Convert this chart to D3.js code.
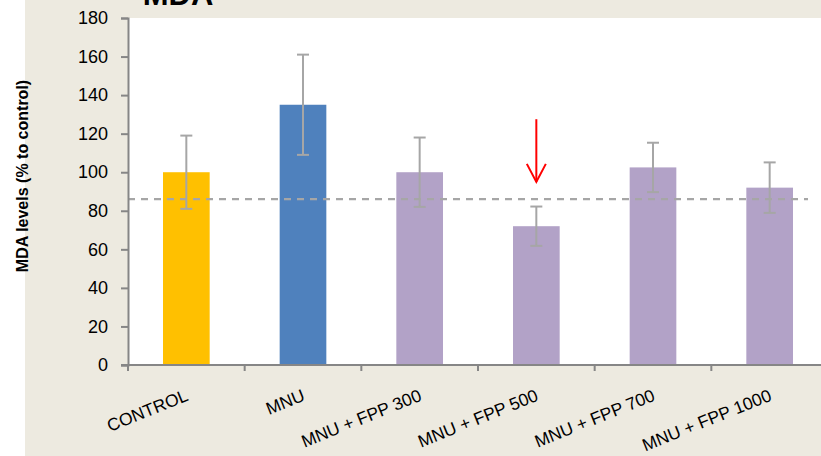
<!DOCTYPE html>
<html>
<head>
<meta charset="utf-8">
<script src="https://cdn.jsdelivr.net/npm/d3@7"></script>
<style>
  html, body { margin: 0; padding: 0; background: #ffffff; }
  svg { display: block; }
</style>
</head>
<body>
<svg id="chart" width="821" height="456"></svg>
<script>
const categories = ["CONTROL", "MNU", "MNU + FPP 300", "MNU + FPP 500", "MNU + FPP 700", "MNU + FPP 1000"];
const values = [100, 135, 100, 72, 102.5, 92];
const errors = [19, 26, 18, 10.2, 12.8, 13.1];
const barColors = ["#FFC000", "#4F81BD", "#B2A2C7", "#B2A2C7", "#B2A2C7", "#B2A2C7"];
const yTicks = [0, 20, 40, 60, 80, 100, 120, 140, 160, 180];
const referenceLevel = 86;
const arrowCategory = "MNU + FPP 500";
const arrowFrom = 127.5;
const arrowTo = 95;
const title = "MDA";
const yLabel = "MDA levels (% to control)";

const svg = d3.select("#chart");
const W = 821, H = 456;
const plot = { left: 128, right: 828, top: 18, bottom: 365 };
const FONT = "'Liberation Sans', Arial, sans-serif";

// background
svg.append("rect").attr("x", 0).attr("y", 0).attr("width", W).attr("height", H).attr("fill", "#ffffff");
svg.append("rect").attr("x", 25).attr("y", 0).attr("width", W - 25).attr("height", H).attr("fill", "#EDEAE0");
svg.append("rect").attr("x", plot.left).attr("y", plot.top)
  .attr("width", plot.right - plot.left).attr("height", plot.bottom - plot.top).attr("fill", "#ffffff");

const x = d3.scaleBand().domain(categories).range([plot.left, plot.right])
  .paddingInner(0.6).paddingOuter(0.3);
const y = d3.scaleLinear().domain([0, 180]).range([plot.bottom, plot.top]);

// title (mostly cut off at top, as in the original)
svg.append("text").attr("x", 178).attr("y", 5).attr("text-anchor", "middle")
  .attr("font-family", FONT).attr("font-weight", "bold")
  .attr("font-size", 31).attr("fill", "#000").text(title);

// bars
svg.append("g").selectAll("rect").data(categories).join("rect")
  .attr("x", d => x(d))
  .attr("y", (d, i) => y(values[i]))
  .attr("width", x.bandwidth())
  .attr("height", (d, i) => y(0) - y(values[i]))
  .attr("fill", (d, i) => barColors[i]);

// error bars
const eb = svg.append("g").attr("stroke", "#A6A6A6").attr("stroke-width", 2).attr("fill", "none");
categories.forEach((c, i) => {
  const cx = x(c) + x.bandwidth() / 2;
  const hi = y(values[i] + errors[i]), lo = y(values[i] - errors[i]);
  eb.append("line").attr("x1", cx).attr("x2", cx).attr("y1", hi).attr("y2", lo);
  eb.append("line").attr("x1", cx - 6).attr("x2", cx + 6).attr("y1", hi).attr("y2", hi);
  eb.append("line").attr("x1", cx - 6).attr("x2", cx + 6).attr("y1", lo).attr("y2", lo);
});

// dashed reference line
svg.append("line").attr("x1", plot.left).attr("x2", 808)
  .attr("y1", y(referenceLevel)).attr("y2", y(referenceLevel))
  .attr("stroke", "#A6A6A6").attr("stroke-width", 2.2).attr("stroke-dasharray", "7,6");

// arrow
const ax = x(arrowCategory) + x.bandwidth() / 2;
const ag = svg.append("g").attr("stroke", "#FF0000").attr("stroke-width", 2).attr("fill", "none");
ag.append("line").attr("x1", ax).attr("x2", ax).attr("y1", y(arrowFrom)).attr("y2", y(arrowTo));
ag.append("polyline").attr("points", [
  [ax - 9.5, y(arrowTo) - 18], [ax, y(arrowTo)], [ax + 9.5, y(arrowTo) - 18]
].map(p => p.join(",")).join(" "));

// y axis
const yAxis = svg.append("g").attr("transform", `translate(${plot.left},0)`)
  .call(d3.axisLeft(y).tickValues(yTicks).tickSize(7).tickPadding(13));
yAxis.select(".domain").attr("stroke", "#868686").attr("stroke-width", 2);
yAxis.selectAll(".tick line").attr("stroke", "#868686").attr("stroke-width", 2);
yAxis.selectAll(".tick text").attr("font-family", FONT)
  .attr("font-size", 18).attr("fill", "#000");

// x axis
const xAxisG = svg.append("g").attr("transform", `translate(0,${plot.bottom})`);
xAxisG.append("line").attr("x1", plot.left - 7).attr("x2", W).attr("y1", 0).attr("y2", 0)
  .attr("stroke", "#868686").attr("stroke-width", 2);
const step = x.step();
const boundaries = d3.range(categories.length + 1).map(i => plot.left + i * step);
xAxisG.selectAll("line.tk").data(boundaries).join("line").attr("class", "tk")
  .attr("x1", d => d).attr("x2", d => d).attr("y1", 0).attr("y2", 6)
  .attr("stroke", "#868686").attr("stroke-width", 2);
xAxisG.selectAll("text").data(categories).join("text")
  .attr("transform", d => `translate(${x(d) + x.bandwidth() / 2 + 3},${35}) rotate(-22)`)
  .attr("text-anchor", "end")
  .attr("font-family", FONT)
  .attr("font-size", 17.5).attr("fill", "#000").text(d => d);

// y label
svg.append("text").attr("transform", `translate(28,176) rotate(-90)`)
  .attr("text-anchor", "middle")
  .attr("font-family", FONT).attr("font-weight", "bold")
  .attr("font-size", 16).attr("fill", "#000").text(yLabel);
</script>
</body>
</html>
